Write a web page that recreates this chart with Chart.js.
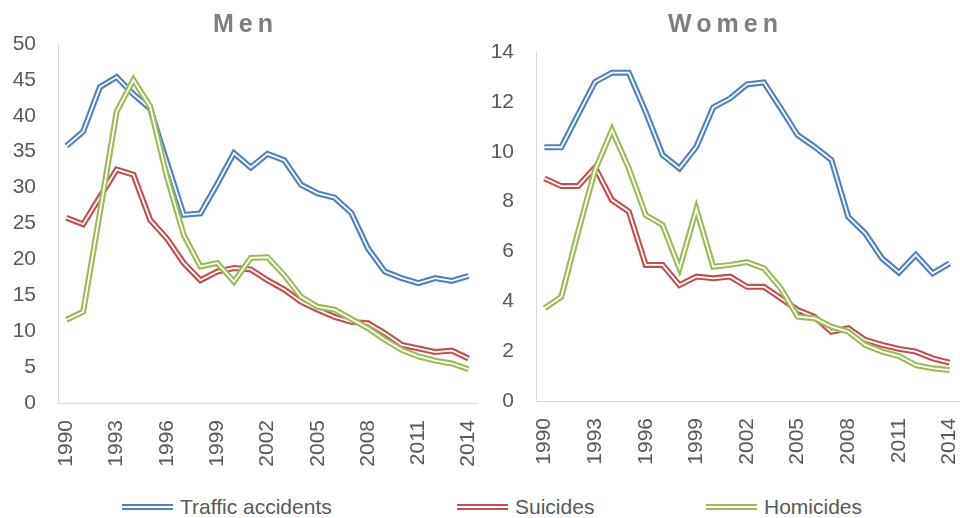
<!DOCTYPE html>
<html>
<head>
<meta charset="utf-8">
<script src="https://cdn.jsdelivr.net/npm/chart.js@4.4.1/dist/chart.umd.min.js"></script>
<style>
  body { margin: 0; background: #fff; font-family: "Liberation Sans", Arial, sans-serif; }
  #wrap { position: relative; width: 960px; height: 518px; overflow: hidden; }
  .panel { position: absolute; top: 0; width: 480px; height: 470px; }
  .title { position: absolute; top: 9px; width: 480px; text-align: center; font-weight: bold;
           font-size: 25px; color: #7f7f7f; letter-spacing: 5px; padding-left: 5px; box-sizing: border-box; }
  .item { position: absolute; top: 495px; font-size: 21px; color: #595959; display: flex; align-items: center; white-space: nowrap; }
  .swatch { width: 51px; height: 2px; border-top: 2px solid; border-bottom: 2px solid; margin-right: 7px; }
</style>
</head>
<body>
<div id="wrap">
  <div class="panel" style="left:0"><canvas id="men"></canvas></div>
  <div class="panel" style="left:480px"><canvas id="women"></canvas></div>
  <div class="title" style="left:3px">Men</div>
  <div class="title" style="left:483px">Women</div>
  <div class="item" style="left:122px"><span class="swatch" style="border-color:#4f81bd"></span>Traffic accidents</div>
  <div class="item" style="left:457px"><span class="swatch" style="border-color:#c0504d"></span>Suicides</div>
  <div class="item" style="left:706px"><span class="swatch" style="border-color:#9bbb59"></span>Homicides</div>
</div>
<script>
// rates per 100 000, 1990–2014

const years = ['1990', '1991', '1992', '1993', '1994', '1995', '1996', '1997', '1998', '1999', '2000', '2001', '2002',
  '2003', '2004', '2005', '2006', '2007', '2008', '2009', '2010', '2011', '2012', '2013', '2014'];

const menTraffic = [35.8, 37.8, 44.0, 45.4, 43.0, 41.0, 33.5, 26.2, 26.4, 30.5, 34.8, 32.8, 34.7,
  33.8, 30.4, 29.2, 28.6, 26.5, 21.5, 18.3, 17.4, 16.7, 17.4, 17.0, 17.7];
const menSuicides = [25.8, 24.9, 28.7, 32.5, 31.8, 25.5, 22.9, 19.5, 17.1, 18.3, 18.8, 18.6, 17.1,
  15.8, 14.1, 13.0, 12.0, 11.3, 11.1, 9.7, 8.1, 7.6, 7.1, 7.3, 6.2];
const menHomicides = [11.6, 12.7, 26.5, 40.6, 45.0, 41.3, 31.5, 23.4, 19.0, 19.5, 16.9, 20.2, 20.3,
  17.8, 14.8, 13.4, 13.0, 11.7, 10.4, 8.8, 7.4, 6.5, 5.9, 5.5, 4.7];

const womenTraffic = [10.18, 10.18, 11.5, 12.8, 13.17, 13.17, 11.6, 9.87, 9.33, 10.2, 11.78, 12.14, 12.7,
  12.78, 11.74, 10.67, 10.2, 9.67, 7.39, 6.73, 5.72, 5.15, 5.86, 5.12, 5.52];
const womenSuicides = [8.93, 8.62, 8.62, 9.37, 8.06, 7.6, 5.46, 5.46, 4.65, 4.99, 4.92, 4.99, 4.58,
  4.58, 4.12, 3.65, 3.38, 2.78, 2.92, 2.45, 2.25, 2.09, 1.98, 1.71, 1.54];
const womenHomicides = [3.72, 4.18, 6.8, 9.27, 10.87, 9.33, 7.46, 7.06, 5.32, 7.69, 5.39, 5.46, 5.57,
  5.32, 4.52, 3.38, 3.32, 2.98, 2.78, 2.25, 1.98, 1.8, 1.44, 1.31, 1.24];

const seriesNames = ['Traffic accidents', 'Suicides', 'Homicides'];
const seriesColors = ['#4f81bd', '#c0504d', '#9bbb59'];

const tickFont = { family: '"Liberation Sans", Arial, sans-serif', size: 21 };
const tickColor = '#595959';

// Excel "double" line: a wide coloured stroke with a thin white stroke on top
function doubleLine(data, i) {
  const base = { data, fill: false, pointRadius: 0, tension: 0, borderJoinStyle: 'miter', borderCapStyle: 'butt' };
  return [
    { ...base, label: seriesNames[i], borderColor: seriesColors[i], borderWidth: 6, order: 10 - i * 2 },
    { ...base, label: seriesNames[i] + ' ', borderColor: '#ffffff', borderWidth: 1.8, order: 9 - i * 2 },
  ];
}

function makeChart(id, lists, yMax, step, yWidth, top, right, xHeight) {
  const datasets = lists.flatMap((d, i) => doubleLine(d, i));
  return new Chart(document.getElementById(id), {
    type: 'line',
    data: { labels: years, datasets },
    options: {
      responsive: true,
      maintainAspectRatio: false,
      animation: false,
      layout: { padding: { top, right, left: 0, bottom: 0 } },
      plugins: { legend: { display: false }, tooltip: { enabled: false } },
      scales: {
        x: {
          offset: true,
          grid: { display: false, drawTicks: false },
          border: { display: true, color: '#d9d9d9', width: 1 },
          ticks: {
            autoSkip: false, minRotation: 90, maxRotation: 90, padding: 17,
            color: tickColor, font: tickFont,
            callback: (v, i) => (i % 3 === 0 ? years[i] : null),
          },
          afterFit: s => { s.height = xHeight; s.paddingLeft = 0; s.paddingRight = 0; },
        },
        y: {
          min: 0, max: yMax,
          grid: { display: false, drawTicks: false },
          border: { display: true, color: '#d9d9d9', width: 1 },
          ticks: { stepSize: step, padding: 22, color: tickColor, font: tickFont },
          afterFit: s => { s.width = yWidth; },
        },
      },
    },
  });
}

makeChart('men', [menTraffic, menSuicides, menHomicides], 50, 5, 58, 44, 3, 67);
makeChart('women', [womenTraffic, womenSuicides, womenHomicides], 14, 2, 56, 52, 2, 69);
</script>
</body>
</html>
